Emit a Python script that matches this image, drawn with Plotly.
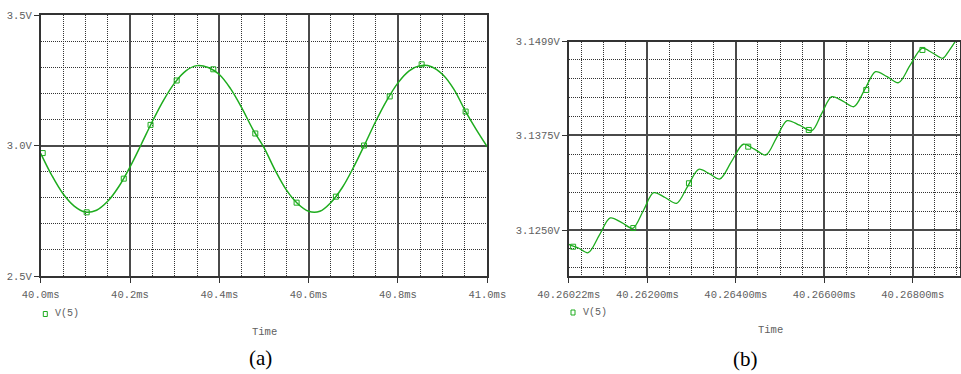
import plotly.graph_objects as go

# ---------------- data: panel (a) ----------------
time_a = [40.000, 40.025, 40.050, 40.075, 40.100, 40.125, 40.150, 40.175, 40.200, 40.225,
          40.250, 40.275, 40.300, 40.325, 40.350, 40.375, 40.400, 40.425, 40.450, 40.475,
          40.500, 40.525, 40.550, 40.575, 40.600, 40.625, 40.650, 40.675, 40.700, 40.725,
          40.750, 40.775, 40.800, 40.825, 40.850, 40.875, 40.900, 40.925, 40.950, 40.975,
          41.000]
volt_a = [2.970, 2.885, 2.815, 2.768, 2.745, 2.752, 2.786, 2.843, 2.918, 3.004,
          3.092, 3.173, 3.240, 3.286, 3.306, 3.299, 3.272, 3.218, 3.145, 3.062,
          2.992, 2.905, 2.830, 2.778, 2.748, 2.748, 2.782, 2.838, 2.915, 3.002,
          3.092, 3.173, 3.240, 3.286, 3.306, 3.302, 3.272, 3.216, 3.135, 3.062,
          2.995]
mark_time_a = [40.0045, 40.103, 40.186, 40.246, 40.3045, 40.3865, 40.4805, 40.573,
               40.661, 40.724, 40.7815, 40.853, 40.9515]
mark_volt_a = [2.971, 2.744, 2.873, 3.079, 3.249, 3.292, 3.046, 2.781,
               2.804, 3.000, 3.188, 3.311, 3.130]

# ---------------- data: panel (b) ----------------
time_b = [40.26022, 40.26044, 40.26066, 40.26091, 40.26116, 40.26142, 40.26167, 40.26191,
          40.26214, 40.26240, 40.26266, 40.26291, 40.26316, 40.26340, 40.26364, 40.26390,
          40.26417, 40.26442, 40.26468, 40.26492, 40.26516, 40.26544, 40.26572, 40.26594,
          40.26617, 40.26642, 40.26667, 40.26692, 40.26716, 40.26742, 40.26768, 40.26794,
          40.26821, 40.26844, 40.26868, 40.26882, 40.26896]
volt_b = [3.12311, 3.12262, 3.12200, 3.12429, 3.12659, 3.12598, 3.12523, 3.12758,
          3.12993, 3.12930, 3.12853, 3.13078, 3.13303, 3.13245, 3.13175, 3.13404,
          3.13634, 3.13570, 3.13492, 3.13719, 3.13946, 3.13886, 3.13814, 3.14038,
          3.14263, 3.14204, 3.14131, 3.14362, 3.14594, 3.14528, 3.14448, 3.14676,
          3.14903, 3.14844, 3.14771, 3.14870, 3.14991]
mark_time_b = [40.26032, 40.26168, 40.26294, 40.26428, 40.26565, 40.26695, 40.26822]
mark_volt_b = [3.12279, 3.12526, 3.13118, 3.13602, 3.13823, 3.14352, 3.14881]

tick_vals_b_x = [40.26022, 40.26200, 40.26400, 40.26600, 40.26800]
tick_text_b_x = ["40.26022ms", "40.26200ms", "40.26400ms", "40.26600ms", "40.26800ms"]
tick_vals_b_y = [3.1250, 3.1375, 3.1499]
tick_text_b_y = ["3.1250V", "3.1375V", "3.1499V"]

series_name = "V(5)"
x_title = "Time"
panel_labels = ["(a)", "(b)"]

# ---------------- styling ----------------
GREEN = "rgb(30,172,30)"
MONO = "Liberation Mono, Courier New, monospace"
LABEL_GRAY = "#606060"
MAJOR = "#4a4a4a"
MINOR = "#333333"
DOT = "1px,1px"

fig = go.Figure()
fig.add_trace(go.Scatter(x=time_a, y=volt_a, mode="lines", line=dict(color=GREEN, width=1.5, shape="spline"),
                         xaxis="x", yaxis="y", showlegend=False, hoverinfo="skip"))
fig.add_trace(go.Scatter(x=mark_time_a, y=mark_volt_a, mode="markers",
                         marker=dict(symbol="square-open", size=5, color=GREEN, line=dict(width=1, color=GREEN)),
                         xaxis="x", yaxis="y", showlegend=False, name=series_name))
fig.add_trace(go.Scatter(x=time_b, y=volt_b, mode="lines", line=dict(color=GREEN, width=1.3, shape="spline", smoothing=0.9),
                         xaxis="x2", yaxis="y2", showlegend=False, hoverinfo="skip"))
fig.add_trace(go.Scatter(x=mark_time_b, y=mark_volt_b, mode="markers",
                         marker=dict(symbol="square-open", size=5, color=GREEN, line=dict(width=1, color=GREEN)),
                         xaxis="x2", yaxis="y2", showlegend=False, name=series_name))

W, H = 961, 374
def px(x):
    return x / W
def py(y):
    return (H - y) / H

common = dict(showline=True, mirror=True, linecolor="#333333", linewidth=1.5,
              ticks="outside", ticklen=5, tickcolor="#333333", tickwidth=1,
              showgrid=True, gridcolor=MAJOR, gridwidth=1.5, zeroline=False, automargin=False,
              tickfont=dict(family=MONO, size=10.5, color=LABEL_GRAY))

fig.update_layout(
    width=W, height=H, autosize=False,
    margin=dict(l=0, r=0, t=0, b=0),
    paper_bgcolor="white", plot_bgcolor="white",
    xaxis=dict(domain=[px(40.7), px(487.3)], range=[40.0, 41.0], anchor="y",
               tickmode="linear", tick0=40.0, dtick=0.2, tickformat=".1f", ticksuffix="ms",
               ticklabelstandoff=3,
               minor=dict(tickmode="linear", tick0=40.0, dtick=0.05, showgrid=True,
                          griddash=DOT, gridcolor=MINOR, gridwidth=1),
               **common),
    yaxis=dict(domain=[py(276), py(15)], range=[2.5, 3.5], anchor="x",
               tickmode="linear", tick0=2.5, dtick=0.5, tickformat=".1f", ticksuffix="V",
               minor=dict(tickmode="linear", tick0=2.5, dtick=0.1, showgrid=True,
                          griddash=DOT, gridcolor=MINOR, gridwidth=1),
               **common),
    xaxis2=dict(domain=[px(568.7), px(960)], range=[40.26022, 40.26907], anchor="y2",
                tickmode="array", tickvals=tick_vals_b_x, ticktext=tick_text_b_x,
                ticklabelstandoff=3,
                minor=dict(tickmode="linear", tick0=40.262, dtick=0.0005, showgrid=True,
                           griddash=DOT, gridcolor=MINOR, gridwidth=1),
                **common),
    yaxis2=dict(domain=[py(276), py(41.7)], range=[3.11892, 3.1499], anchor="x2",
                tickmode="array", tickvals=tick_vals_b_y, ticktext=tick_text_b_y,
                minor=dict(tickmode="linear", tick0=3.125, dtick=0.0025, showgrid=True,
                           griddash=DOT, gridcolor=MINOR, gridwidth=1),
                **common),
)

annots = []
txt_font = dict(family=MONO, size=10.5, color=LABEL_GRAY)
annots.append(dict(text=x_title, x=px(264.2), y=py(331.7), xref="paper", yref="paper",
                   xanchor="center", yanchor="middle", showarrow=False, font=txt_font))
annots.append(dict(text=x_title, x=px(770), y=py(330), xref="paper", yref="paper",
                   xanchor="center", yanchor="middle", showarrow=False, font=txt_font))
annots.append(dict(text=series_name, x=px(53), y=py(313.5), xref="paper", yref="paper",
                   xanchor="left", yanchor="middle", showarrow=False,
                   font=dict(family=MONO, size=10, color=LABEL_GRAY)))
annots.append(dict(text=series_name, x=px(580.5), y=py(312.5), xref="paper", yref="paper",
                   xanchor="left", yanchor="middle", showarrow=False,
                   font=dict(family=MONO, size=10, color=LABEL_GRAY)))
serif = dict(family="Liberation Serif, Times New Roman, serif", size=21, color="black")
annots.append(dict(text=panel_labels[0], x=px(260), y=py(358), xref="paper", yref="paper",
                   xanchor="center", yanchor="middle", showarrow=False, font=serif))
annots.append(dict(text=panel_labels[1], x=px(745.7), y=py(359), xref="paper", yref="paper",
                   xanchor="center", yanchor="middle", showarrow=False, font=serif))
fig.update_layout(annotations=annots)

# legend swatches (small open squares)
shapes = [
    dict(type="rect", xref="paper", yref="paper", x0=px(43.3), x1=px(47.3), y0=py(316.5), y1=py(311.5),
         line=dict(color=GREEN, width=1)),
    dict(type="rect", xref="paper", yref="paper", x0=px(571), x1=px(575), y0=py(315), y1=py(310),
         line=dict(color=GREEN, width=1)),
]
fig.update_layout(shapes=shapes)

fig.write_html("out.html", config={"displayModeBar": False},
               post_script="document.body.style.margin='0';")
